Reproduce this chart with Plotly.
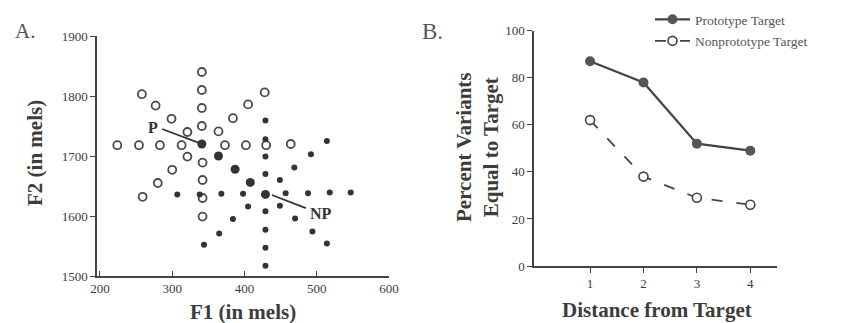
import plotly.graph_objects as go

# The page body has an 8px margin, so the figure is sized to fill the
# 843x323 window from (8, 8); reference pixel positions are shifted by 8.
OFF = 8
W, H = 843 - OFF, 323 - OFF

# ---------------- Panel A data (F1, F2 in mels) ----------------
open_f1 = [341, 341, 341, 341, 342, 342, 342, 342,
           313, 283, 254, 224, 373, 402, 430, 464,
           321, 299, 277, 258, 364, 384, 405, 428,
           321, 300, 280, 259]
open_f2 = [1750, 1780, 1810, 1840, 1689, 1660, 1630, 1599,
           1718, 1718, 1718, 1718, 1718, 1718, 1718, 1720,
           1740, 1762, 1784, 1803, 1741, 1763, 1786, 1806,
           1699, 1677, 1655, 1632]

filled_f1 = [429, 429, 429, 429, 429, 429, 429, 429,
             307, 338, 368, 398, 457, 488, 518, 547,
             449, 470, 494, 514, 449, 469, 492, 514,
             405, 384, 365, 344]
filled_f2 = [1759, 1728, 1699, 1670, 1608, 1577, 1547, 1517,
             1636, 1636, 1637, 1637, 1638, 1638, 1639, 1639,
             1617, 1596, 1574, 1554, 1660, 1681, 1703, 1725,
             1616, 1595, 1571, 1552]

# points on the line joining P and NP (shared by both sets)
line_f1 = [341, 364, 387, 408, 429]
line_f2 = [1720, 1700, 1678, 1656, 1636]

a_xticks = [200, 300, 400, 500, 600]
a_yticks = [1500, 1600, 1700, 1800, 1900]

# ---------------- Panel B data ----------------
distance = [1, 2, 3, 4]
prototype_pct = [87, 78, 52, 49]
nonprototype_pct = [62, 38, 29, 26]
b_yticks = [0, 20, 40, 60, 80, 100]

INK = "#333333"
TXT = "#3c3c3c"
SERIF = "Liberation Serif"


def px_x(p):
    return (p - OFF) / W


def px_y(p):
    return 1 - (p - OFF) / H


fig = go.Figure()

# Panel A
fig.add_trace(go.Scatter(x=open_f1, y=open_f2, mode="markers", xaxis="x", yaxis="y",
                         marker=dict(symbol="circle-open", size=8, color="#4a4a4a",
                                     line=dict(width=1.8, color="#4a4a4a")),
                         showlegend=False, hoverinfo="skip"))
fig.add_trace(go.Scatter(x=filled_f1, y=filled_f2, mode="markers", xaxis="x", yaxis="y",
                         marker=dict(symbol="circle", size=6, color=INK),
                         showlegend=False, hoverinfo="skip"))
fig.add_trace(go.Scatter(x=line_f1, y=line_f2, mode="markers", xaxis="x", yaxis="y",
                         marker=dict(symbol="circle", size=9, color=INK),
                         showlegend=False, hoverinfo="skip"))

# Panel B
fig.add_trace(go.Scatter(x=distance, y=prototype_pct, mode="lines+markers", xaxis="x2", yaxis="y2",
                         name="Prototype Target", legendgroup="p",
                         line=dict(color="#444444", width=2.2),
                         marker=dict(symbol="circle", size=10, color="#555555"),
                         hoverinfo="skip"))
fig.add_trace(go.Scatter(x=distance, y=nonprototype_pct, mode="lines+markers", xaxis="x2", yaxis="y2",
                         name="Nonprototype Target", legendgroup="n",
                         line=dict(color="#444444", width=1.8, dash="11px,14px"),
                         marker=dict(symbol="circle", size=9, color="white",
                                     line=dict(width=1.6, color="#444444")),
                         hoverinfo="skip"))

axis_common = dict(showline=True, linecolor="#444444", linewidth=1.5, showgrid=False,
                   zeroline=False, ticklen=5, tickcolor="#444444", tickwidth=1.2,
                   tickfont=dict(family=SERIF, size=13, color=TXT))

fig.update_layout(
    width=W, height=H,
    margin=dict(l=0, r=0, t=0, b=0, autoexpand=False),
    paper_bgcolor="white", plot_bgcolor="rgba(0,0,0,0)",
    xaxis=dict(domain=[px_x(97), px_x(389)], range=[195.9, 600], anchor="y",
               tickmode="array", tickvals=a_xticks, ticks="inside", **axis_common),
    yaxis=dict(domain=[px_y(276), px_y(36)], range=[1500, 1900], anchor="x",
               tickmode="array", tickvals=a_yticks, ticks="outside", **axis_common),
    xaxis2=dict(domain=[px_x(534), px_x(777)], range=[-0.05, 4.5], anchor="y2",
                tickmode="array", tickvals=distance, ticks="outside", **axis_common),
    yaxis2=dict(domain=[px_y(266), px_y(30.7)], range=[0, 100], anchor="x2",
                tickmode="array", tickvals=b_yticks, ticks="outside", **axis_common),
    legend=dict(x=px_x(650), y=px_y(4), xanchor="left", yanchor="top",
                bgcolor="rgba(0,0,0,0)", itemwidth=35, traceorder="grouped",
                tracegroupgap=1,
                font=dict(family=SERIF, size=13.5, color="#555555")),
    showlegend=True,
)

# annotation lines for P and NP
fig.add_shape(type="line", xref="x", yref="y", x0=286, y0=1745, x1=337, y1=1722,
              line=dict(color=INK, width=1.8))
fig.add_shape(type="line", xref="x", yref="y", x0=438, y0=1635, x1=485, y1=1613,
              line=dict(color=INK, width=1.8))


def note(text, x, y, size, xref="paper", yref="paper", angle=0, color=TXT):
    return dict(text=text, x=x, y=y, xref=xref, yref=yref, textangle=angle,
                xanchor="center", yanchor="middle", showarrow=False,
                font=dict(size=size, family=SERIF, color=color))


ann = [
    note("<b>P</b>", 273, 1747, 16, "x", "y", color=INK),
    note("<b>NP</b>", 506, 1605, 16, "x", "y", color=INK),
    note("A.", px_x(25), px_y(31), 21, color="#555555"),
    note("B.", px_x(432), px_y(32), 23, color="#555555"),
    note("<b>F2 (in mels)</b>", px_x(35), px_y(153), 21, angle=-90),
    note("<b>F1 (in mels)</b>", px_x(243), px_y(312), 21),
    note("<b>Percent Variants<br>Equal to Target</b>", px_x(477), px_y(147), 21, angle=-90),
    note("<b>Distance from Target</b>", px_x(657), px_y(310), 21),
]
fig.update_layout(annotations=ann)

fig.write_html("out.html")
